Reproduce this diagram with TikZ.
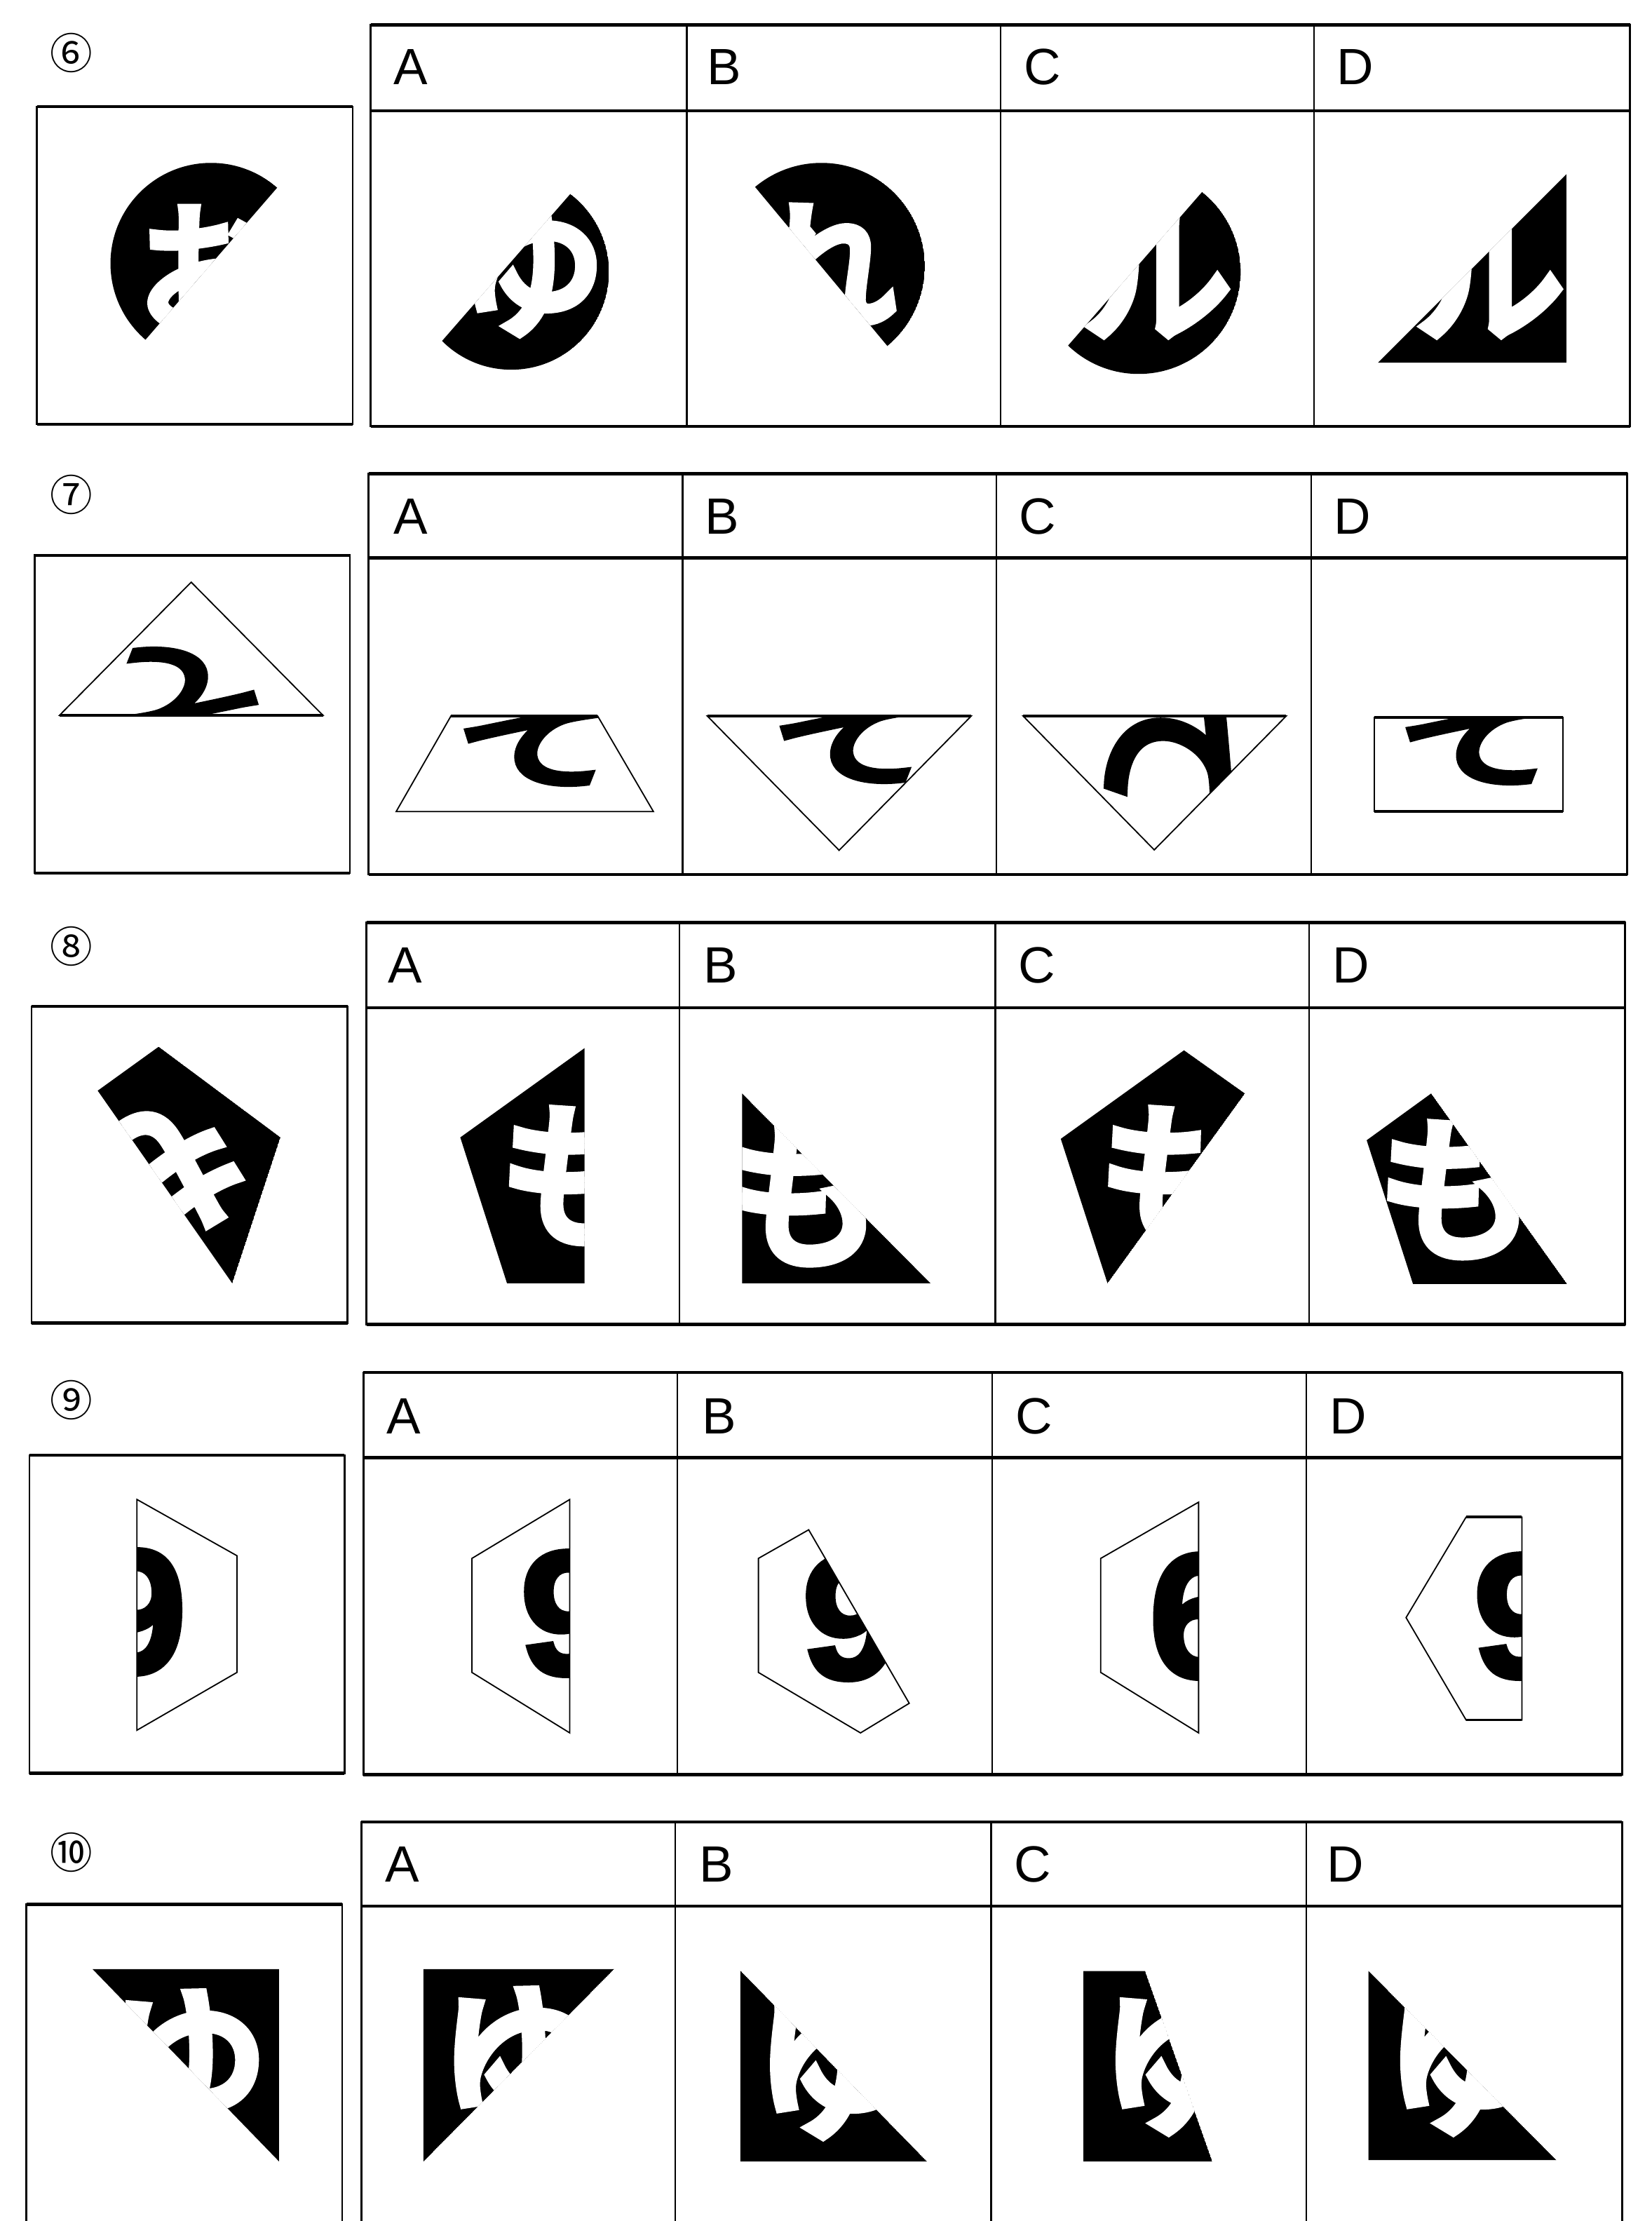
\documentclass[tikz,border=0pt]{standalone}
\usepackage{fontspec}
\setmainfont{Liberation Sans}
\newfontfamily\jp{Noto Sans CJK JP}[FakeBold=7]
\newfontfamily\jpn{Noto Sans CJK JP}
\newfontfamily\digf{Liberation Sans}[BoldFeatures={FakeBold=3}]
\tikzset{
 framel/.style={line width=1.3pt},
 hline/.style={line width=2.2pt},
 divl/.style={line width=1.1pt},
 shp/.style={line width=0.9pt},
 letter/.style={inner sep=0pt, font=\fontsize{36}{36}\selectfont},
 qnum/.style={inner sep=0pt, font=\jpn\fontsize{30}{30}\selectfont},
 kw/.style={inner sep=0pt, text=white, font=\jp\fontsize{#1}{#1}\selectfont},
 kb/.style={inner sep=0pt, text=black, font=\jp\fontsize{#1}{#1}\selectfont},
 dg/.style={inner sep=0pt, text=black, font=\digf\bfseries\fontsize{124}{124}\selectfont},
}
\begin{document}
\begin{tikzpicture}[x=1pt,y=-1pt]
\fill[white] (0,0) rectangle (1166,1568);
\useasboundingbox (0,0) rectangle (1166,1568);

% ================= Row 6 =================
\draw[framel] (261.8,17.6) rectangle (1151,301);
\draw[hline] (261.8,17.6) -- (1151,17.6) (261.8,301) -- (1151,301);
\draw[hline] (261.8,78.3) -- (1151,78.3);
\draw[divl] (485,17.6) -- (485,301);
\draw[divl] (706.5,17.6) -- (706.5,301);
\draw[divl] (928,17.6) -- (928,301);
\draw[framel] (26,75.3) rectangle (249,299.4);
\draw[hline] (26,75.3) -- (249,75.3) (26,299.4) -- (249,299.4);
\node[qnum] (n6) at (50.6,37.2) {⑥};
\node[letter] (a6) at (290,47.4) {A};
\node[letter] (b6) at (511.5,47.4) {B};
\node[letter] (c6) at (736,47.4) {C};
\node[letter] (d6) at (957,47.4) {D};
\begin{scope}
 \clip (149,186) circle (71);
 \clip (294,19) -- (3,355) -- (-200,355) -- (-200,19) -- cycle;
 \fill (149,186) circle (71);
 \node[kw=100] (q6k) at (147,189) {お};
\end{scope}
\begin{scope}
 \clip (361,192) circle (69);
 \clip (503,22) -- (215,352) -- (600,352) -- (600,22) -- cycle;
 \fill (361,192) circle (69);
 \node[kw=105] (a6k) at (375,190) {ゆ};
\end{scope}
\begin{scope}
 \clip (580,188) circle (73);
 \clip (440,20) -- (722,359) -- (900,359) -- (900,20) -- cycle;
 \fill (580,188) circle (73);
 \node[kw=100] (b6k) at (582,188) {れ};
\end{scope}
\begin{scope}
 \clip (804,192) circle (72);
 \clip (947,23) -- (659,353) -- (1050,353) -- (1050,23) -- cycle;
 \fill (804,192) circle (72);
 \node[kw=105] (c6k) at (817,195) {ル};
\end{scope}
\begin{scope}
 \clip (973,256) -- (1106,123) -- (1106,256) -- cycle;
 \fill (973,256) -- (1106,123) -- (1106,256) -- cycle;
 \node[kw=105] (d6k) at (1052,195) {ル};
\end{scope}

% ================= Row 7 =================
\draw[framel] (260.3,334.5) rectangle (1149,617.3);
\draw[hline] (260.3,334.5) -- (1149,334.5) (260.3,617.3) -- (1149,617.3);
\draw[hline] (260.3,393.8) -- (1149,393.8);
\draw[divl] (482,334.5) -- (482,617.3);
\draw[divl] (703.5,334.5) -- (703.5,617.3);
\draw[divl] (926,334.5) -- (926,617.3);
\draw[framel] (24.5,392) rectangle (247,616.3);
\draw[hline] (24.5,392) -- (247,392) (24.5,616.3) -- (247,616.3);
\node[qnum] (n7) at (50.6,349.4) {⑦};
\node[letter] (a7) at (290,364.5) {A};
\node[letter] (b7) at (510,364.5) {B};
\node[letter] (c7) at (732.5,364.5) {C};
\node[letter] (d7) at (955,364.5) {D};
\begin{scope}
 \clip (135,411) -- (228,505) -- (42,505) -- cycle;
 \node[kb=110, rotate=188, yscale=0.62] (q7k) at (130,481) {て};
\end{scope}
\draw[shp] (135,411) -- (228,505) -- (42,505) -- cycle;
\draw[line width=2pt] (42,505) -- (228,505);
\begin{scope}
 \clip (318.4,505.5) -- (422,505.5) -- (461.4,573) -- (279.7,573) -- cycle;
 \node[kb=110, rotate=8, yscale=0.62] (a7k) at (380,531) {て};
\end{scope}
\draw[shp] (318.4,505.5) -- (422,505.5) -- (461.4,573) -- (279.7,573) -- cycle;
\draw[line width=2pt] (318.4,505.5) -- (422,505.5);
\begin{scope}
 \clip (499.4,505.5) -- (685.8,505.5) -- (592.5,600.3) -- cycle;
 \node[kb=110, rotate=8, yscale=0.62] (b7k) at (603,529) {て};
\end{scope}
\draw[shp] (499.4,505.5) -- (685.8,505.5) -- (592.5,600.3) -- cycle;
\draw[line width=2pt] (499.4,505.5) -- (685.8,505.5);
\begin{scope}
 \clip (722.4,505.5) -- (908.2,505.5) -- (815,600) -- cycle;
 \node[kb=110, rotate=-90] (c7k) at (825,524) {て};
\end{scope}
\draw[shp] (722.4,505.5) -- (908.2,505.5) -- (815,600) -- cycle;
\draw[line width=2pt] (722.4,505.5) -- (908.2,505.5);
\begin{scope}
 \clip (970.3,506.4) rectangle (1103.6,573);
 \node[kb=110, rotate=8, yscale=0.62] (d7k) at (1045,530) {て};
\end{scope}
\draw[shp] (970.3,506.4) rectangle (1103.6,573);
\draw[line width=2pt] (970.3,506.4) -- (1103.6,506.4) (970.3,573) -- (1103.6,573);

% ================= Row 8 =================
\draw[framel] (258.8,651.4) rectangle (1147.5,935);
\draw[hline] (258.8,651.4) -- (1147.5,651.4) (258.8,935) -- (1147.5,935);
\draw[hline] (258.8,711.5) -- (1147.5,711.5);
\draw[divl] (479.7,651.4) -- (479.7,935);
\draw[divl] (702.8,651.4) -- (702.8,935);
\draw[divl] (924.4,651.4) -- (924.4,935);
\draw[framel] (22.3,710.4) rectangle (245.4,934);
\draw[hline] (22.3,710.4) -- (245.4,710.4) (22.3,934) -- (245.4,934);
\node[qnum] (n8) at (50.6,668) {⑧};
\node[letter] (a8) at (286,681.6) {A};
\node[letter] (b8) at (509,681.6) {B};
\node[letter] (c8) at (732,681.6) {C};
\node[letter] (d8) at (954,681.6) {D};
\begin{scope}
 \clip (112,739) -- (198,803) -- (164,906) -- (69,770) -- cycle;
 \fill (112,739) -- (198,803) -- (164,906) -- (69,770) -- cycle;
 \node[kw=110, rotate=-145] (q8k) at (116,830) {も};
\end{scope}
\begin{scope}
 \clip (412.7,740) -- (412.7,906) -- (358,906) -- (325,803) -- cycle;
 \fill (412.7,740) -- (412.7,906) -- (358,906) -- (325,803) -- cycle;
 \node[kw=110] (a8k) at (408,830) {も};
\end{scope}
\begin{scope}
 \clip (524,772) -- (657,906) -- (524,906) -- cycle;
 \fill (524,772) -- (657,906) -- (524,906) -- cycle;
 \node[kw=110] (b8k) at (567,845) {も};
\end{scope}
\begin{scope}
 \clip (836,741.5) -- (879,772) -- (782,906) -- (749,804) -- cycle;
 \fill (836,741.5) -- (879,772) -- (782,906) -- (749,804) -- cycle;
 \node[kw=110] (c8k) at (831,830) {も};
\end{scope}
\begin{scope}
 \clip (1010.5,772) -- (1106.5,906.5) -- (997.7,906.5) -- (965,805) -- cycle;
 \fill (1010.5,772) -- (1106.5,906.5) -- (997.7,906.5) -- (965,805) -- cycle;
 \node[kw=110] (d8k) at (1028,840) {も};
\end{scope}

% ================= Row 9 =================
\draw[framel] (256.6,969) rectangle (1145.3,1252.8);
\draw[hline] (256.6,969) -- (1145.3,969) (256.6,1252.8) -- (1145.3,1252.8);
\draw[hline] (256.6,1029) -- (1145.3,1029);
\draw[divl] (478.2,969) -- (478.2,1252.8);
\draw[divl] (700.6,969) -- (700.6,1252.8);
\draw[divl] (922.2,969) -- (922.2,1252.8);
\draw[framel] (20.8,1027.3) rectangle (243.2,1251.8);
\draw[hline] (20.8,1027.3) -- (243.2,1027.3) (20.8,1251.8) -- (243.2,1251.8);
\node[qnum] (n9) at (50.6,988.5) {⑨};
\node[letter] (a9) at (285,1000) {A};
\node[letter] (b9) at (508,1000) {B};
\node[letter] (c9) at (730,1000) {C};
\node[letter] (d9) at (952,1000) {D};
\begin{scope}
 \clip (96.7,1058.6) -- (167.3,1098.3) -- (167.3,1180.7) -- (96.7,1221.5) -- cycle;
 \node[dg] (q9k) at (97,1138) {9};
\end{scope}
\draw[shp] (96.7,1058.6) -- (167.3,1098.3) -- (167.3,1180.7) -- (96.7,1221.5) -- cycle;
\begin{scope}
 \clip (402.3,1058.6) -- (402.3,1223.4) -- (333.2,1180.7) -- (333.2,1100.2) -- cycle;
 \node[dg] (a9k) at (402,1139) {9};
\end{scope}
\draw[shp] (402.3,1058.6) -- (402.3,1223.4) -- (333.2,1180.7) -- (333.2,1100.2) -- cycle;
\begin{scope}
 \clip (571,1080) -- (642,1202.5) -- (607.6,1223.4) -- (535.5,1180.7) -- (535.5,1100.2) -- cycle;
 \node[dg] (b9k) at (601,1142) {9};
\end{scope}
\draw[shp] (571,1080) -- (642,1202.5) -- (607.6,1223.4) -- (535.5,1180.7) -- (535.5,1100.2) -- cycle;
\begin{scope}
 \clip (846.3,1060.5) -- (846.3,1223.4) -- (777.2,1180.7) -- (777.2,1100.2) -- cycle;
 \node[dg] (c9k) at (846,1141) {6};
\end{scope}
\draw[shp] (846.3,1060.5) -- (846.3,1223.4) -- (777.2,1180.7) -- (777.2,1100.2) -- cycle;
\begin{scope}
 \clip (1035.2,1071) -- (1074.6,1071) -- (1074.6,1214.3) -- (1035.2,1214.3) -- (992.8,1142) -- cycle;
 \node[dg] (d9k) at (1075,1141) {9};
\end{scope}
\draw[shp] (1035.2,1071) -- (1074.6,1071) -- (1074.6,1214.3) -- (1035.2,1214.3) -- (992.8,1142) -- cycle;
\draw[line width=1.8pt] (1035.2,1071) -- (1074.6,1071) (1035.2,1214.3) -- (1074.6,1214.3);

% ================= Row 10 =================
\draw[framel] (255.1,1568) -- (255.1,1286.3) -- (1145.3,1286.3) -- (1145.3,1568);
\draw[hline] (255.1,1286.3) -- (1145.3,1286.3);
\draw[hline] (255.1,1345.8) -- (1145.3,1345.8);
\draw[divl] (476.7,1286.3) -- (476.7,1568);
\draw[divl] (699.8,1286.3) -- (699.8,1568);
\draw[divl] (922.2,1286.3) -- (922.2,1568);
\draw[framel] (18.6,1568) -- (18.6,1344.4) -- (241.7,1344.4) -- (241.7,1568);
\draw[hline] (18.6,1344.4) -- (241.7,1344.4);
\node[qnum] (n10) at (50.6,1307.7) {⑩};
\node[letter] (a10) at (284,1316) {A};
\node[letter] (b10) at (506,1316) {B};
\node[letter] (c10) at (729,1316) {C};
\node[letter] (d10) at (950,1316) {D};
\begin{scope}
 \clip (65.4,1390.2) -- (197.1,1390.2) -- (197.1,1526) -- cycle;
 \fill (65.4,1390.2) -- (197.1,1390.2) -- (197.1,1526) -- cycle;
 \node[kw=115] (q10k) at (132,1457) {ゆ};
\end{scope}
\begin{scope}
 \clip (299,1390.2) -- (433.6,1390.2) -- (299,1526) -- cycle;
 \fill (299,1390.2) -- (433.6,1390.2) -- (299,1526) -- cycle;
 \node[kw=115] (a10k) at (367,1455) {ゆ};
\end{scope}
\begin{scope}
 \clip (522.8,1391.3) -- (654.5,1526) -- (522.8,1526) -- cycle;
 \fill (522.8,1391.3) -- (654.5,1526) -- (522.8,1526) -- cycle;
 \node[kw=115] (b10k) at (590,1458) {ゆ};
\end{scope}
\begin{scope}
 \clip (765,1391.5) -- (808.5,1391.5) -- (856,1526) -- (765,1526) -- cycle;
 \fill (765,1391.5) -- (808.5,1391.5) -- (856,1526) -- (765,1526) -- cycle;
 \node[kw=115] (c10k) at (834,1455) {ゆ};
\end{scope}
\begin{scope}
 \clip (966.3,1391.5) -- (1098.9,1525) -- (966.3,1525) -- cycle;
 \fill (966.3,1391.5) -- (1098.9,1525) -- (966.3,1525) -- cycle;
 \node[kw=115] (d10k) at (1035,1455) {ゆ};
\end{scope}
\end{tikzpicture}
\end{document}
